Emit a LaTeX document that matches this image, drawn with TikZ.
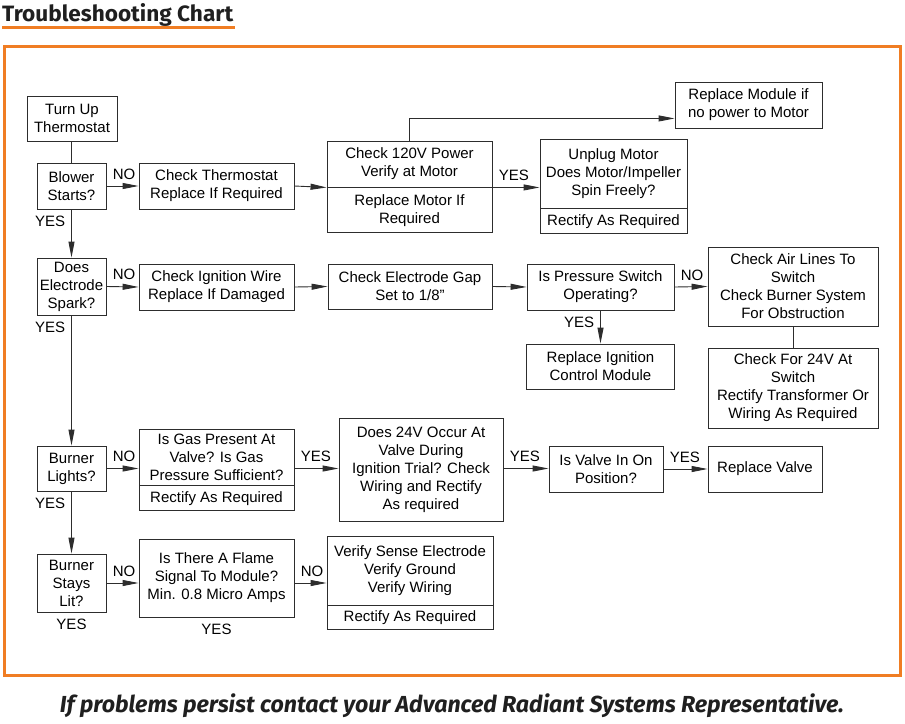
\documentclass[tikz,border=0pt]{standalone}
\usepackage{fontspec}
\setmainfont{Liberation Sans}
\newfontfamily\headfont{Fira Sans}
\usetikzlibrary{arrows.meta}
\definecolor{chartorange}{RGB}{240,125,35}
\definecolor{chartline}{RGB}{45,45,45}
\begin{document}
\begin{tikzpicture}[x=1pt,y=-1pt,
    box/.style={draw=chartline,line width=0.9pt,align=center,inner sep=0pt,
      font=\fontsize{15}{18}\selectfont},
    lbl/.style={inner sep=6pt,font=\fontsize{15}{18}\selectfont},
    arr/.style={draw=chartline,line width=0.9pt,-{Triangle[length=16pt,width=6pt]}},
    con/.style={draw=chartline,line width=0.9pt}]
  \useasboundingbox (0,0) rectangle (905,723);
  \node[anchor=base west,inner sep=0pt,text=black!88] (title) at (2,21)
    {\resizebox{231pt}{18pt}{\headfont\bfseries Troubleshooting Chart}};
  \draw[chartorange,line width=3pt] (2,27.5) -- (235,27.5);
  \draw[chartorange,line width=3pt] (4,46.5) rectangle (900,675);
  \node[anchor=base,inner sep=0pt,text=black!88] (footer) at (452,712)
    {\resizebox{784pt}{!}{\headfont\bfseries\itshape If problems persist contact your Advanced Radiant Systems Representative.}};
  % first row
  \node[box,minimum width=90,minimum height=45] (thermo) at (72,118.5) {Turn Up\\Thermostat};
  \node[box,minimum width=69,minimum height=46] (blower) at (71.5,186) {Blower\\Starts?};
  \node[box,minimum width=155,minimum height=46] (chkthermo) at (216.5,186) {Check Thermostat\\Replace If Required};
  \node[box,minimum width=165,minimum height=46] (power) at (409.5,164) {Check 120V Power\\Verify at Motor};
  \node[box,minimum width=165,minimum height=45,anchor=north] (powerfix) at (power.south) {Replace Motor If\\Required};
  \node[box,minimum width=147,minimum height=46] (module) at (748.5,105) {Replace Module if\\no power to Motor};
  \node[box,minimum width=147,minimum height=69] (unplug) at (613.5,173.5) {Unplug Motor\\Does Motor/Impeller\\Spin Freely?};
  \node[box,minimum width=147,minimum height=25,anchor=north] (unplugfix) at (unplug.south) {Rectify As Required};
  % second row
  \node[box,minimum width=69,minimum height=57] (spark) at (71.5,286.5) {Does\\Electrode\\Spark?};
  \node[box,minimum width=155,minimum height=46] (wire) at (216.5,287) {Check Ignition Wire\\Replace If Damaged};
  \node[box,minimum width=164,minimum height=45] (gap) at (410,286.5) {Check Electrode Gap\\Set to 1/8"};
  \node[box,minimum width=147,minimum height=46] (pressure) at (600.5,287) {Is Pressure Switch\\Operating?};
  \node[box,minimum width=170,minimum height=79] (airlines) at (793,286.5) {Check Air Lines To\\Switch\\Check Burner System\\For Obstruction};
  \node[box,minimum width=170,minimum height=80] (switch24) at (793,388) {Check For 24V At\\Switch\\Rectify Transformer Or\\Wiring As Required};
  \node[box,minimum width=148,minimum height=45] (ignmodule) at (600.5,366.5) {Replace Ignition\\Control Module};
  % third row
  \node[box,minimum width=69,minimum height=45] (lights) at (71.5,468.5) {Burner\\Lights?};
  \node[box,minimum width=155,minimum height=56] (gas) at (216.5,457) {Is Gas Present At\\Valve? Is Gas\\Pressure Sufficient?};
  \node[box,minimum width=155,minimum height=25,anchor=north] (gasfix) at (gas.south) {Rectify As Required};
  \node[box,minimum width=164,minimum height=103] (trial) at (421,469.5) {Does 24V Occur At\\Valve During\\Ignition Trial? Check\\Wiring and Rectify\\As required};
  \node[box,minimum width=114,minimum height=46] (valvepos) at (606,469) {Is Valve In On\\Position?};
  \node[box,minimum width=114,minimum height=46] (valve) at (765,469) {Replace Valve};
  % fourth row
  \node[box,minimum width=69,minimum height=58] (stays) at (71.5,583) {Burner\\Stays\\Lit?};
  \node[box,minimum width=155,minimum height=78] (flame) at (216.5,578) {Is There A Flame\\Signal To Module?\\Min. 0.8 Micro Amps};
  \node[box,minimum width=166,minimum height=69] (sense) at (410,570.5) {Verify Sense Electrode\\Verify Ground\\Verify Wiring};
  \node[box,minimum width=166,minimum height=24,anchor=north] (sensefix) at (sense.south) {Rectify As Required};
  \node[lbl,anchor=north] (staysyes) at (stays.south) {YES};
  \node[lbl,anchor=north] (flameyes) at (flame.south) {YES};
  % connectors
  \draw[con] (thermo.south -| blower.north) -- (blower.north);
  \draw[arr] (blower.east) -- node[lbl,pos=0,anchor=south west]{NO} (chkthermo.west);
  \draw[arr] (chkthermo.east) -- (power.south west);
  \draw[arr] (power.south east) -- node[lbl,pos=0,anchor=south west]{YES} (power.south east -| unplug.west);
  \draw[arr] (power.north) |- ([yshift=10pt]module.south west);
  \draw[arr] (blower.south) -- node[lbl,pos=0,anchor=north east]{YES} (spark.north);
  \draw[arr] (spark.east) -- node[lbl,pos=0,anchor=south west]{NO} (wire.west);
  \draw[arr] (wire.east) -- (gap.west);
  \draw[arr] (gap.east) -- (pressure.west);
  \draw[arr] (pressure.east) -- node[lbl,pos=0,anchor=south west]{NO} (airlines.west);
  \draw[con] (airlines.south) -- (switch24.north);
  \draw[arr] (pressure.south) -- node[lbl,pos=0,anchor=north east]{YES} (ignmodule.north);
  \draw[arr] (spark.south) -- node[lbl,pos=0,anchor=north east]{YES} (lights.north);
  \draw[arr] (lights.east) -- node[lbl,pos=0,anchor=south west]{NO} (lights.east -| gas.west);
  \draw[arr] (lights.east -| gas.east) -- node[lbl,pos=0,anchor=south west]{YES} (lights.east -| trial.west);
  \draw[arr] (lights.east -| trial.east) -- node[lbl,pos=0,anchor=south west]{YES} (lights.east -| valvepos.west);
  \draw[arr] (valvepos.east) -- node[lbl,pos=0,anchor=south west]{YES} (valve.west);
  \draw[arr] (lights.south) -- node[lbl,pos=0,anchor=north east]{YES} (stays.north);
  \draw[arr] (stays.east) -- node[lbl,pos=0,anchor=south west]{NO} (stays.east -| flame.west);
  \draw[arr] (stays.east -| flame.east) -- node[lbl,pos=0,anchor=south west]{NO} (stays.east -| sense.west);
\end{tikzpicture}
\end{document}
